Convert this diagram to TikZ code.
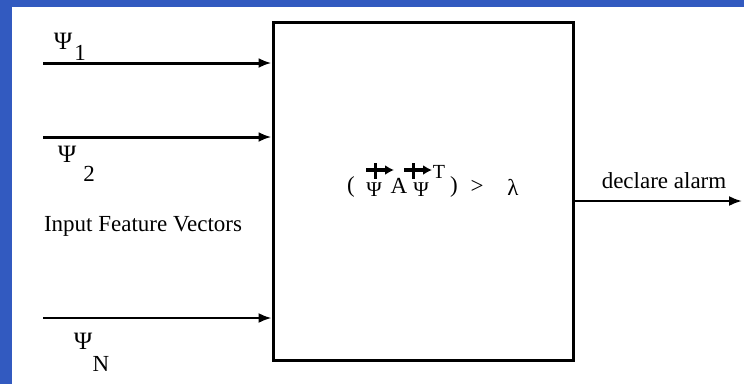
\documentclass[tikz,border=0pt]{standalone}
\usepackage{fontspec}
\setmainfont{Liberation Serif}
\usetikzlibrary{arrows.meta}
\definecolor{frameblue}{RGB}{50,90,192}
\begin{document}
\begin{tikzpicture}[x=1pt,y=-1pt,
  lbl/.style={inner sep=0pt, font=\fontsize{23}{25}\selectfont},
  psi/.style={inner sep=0pt, font=\fontsize{25}{27}\selectfont},
  vpsi/.style={inner sep=0pt, font=\fontsize{21}{23}\selectfont},
  feed/.style={-{Latex[length=13pt,width=10pt]}, line width=3pt},
  thin feed/.style={-{Latex[length=13pt,width=10pt]}, line width=2.2pt},
  vecbar/.style={-{Latex[length=9pt,width=10pt]}, line width=4pt}]
\useasboundingbox (0,0) rectangle (744,384);
% page frame
\fill[frameblue] (0,0) rectangle (744,384);
\fill[white] (12,7) rectangle (744,384);

% detector block
\node[draw, line width=3pt, minimum width=300pt, minimum height=338pt, inner sep=0pt] (box) at (423,191) {};

% input feature vectors
\coordinate (s1) at (43,63);
\coordinate (s2) at (43,137);
\coordinate (sN) at (43,318);
\draw[feed] (s1) -- (s1 -| box.west);
\draw[feed] (s2) -- (s2 -| box.west);
\draw[thin feed] (sN) -- (sN -| box.west);

\node[psi] (p1) at (63,41) {Ψ};
\node[lbl] (i1) at (80,53) {1};
\node[psi] (p2) at (67,154) {Ψ};
\node[lbl] (i2) at (89,174) {2};
\node[lbl] (ifv) at (143,226) {Input Feature Vectors};
\node[psi] (pN) at (83,341) {Ψ};
\node[lbl] (iN) at (101,364) {N};

% decision rule
\node[lbl] (lp) at (351,187) {(};
\node[vpsi] (v1) at (374,190) {Ψ};
\node[lbl] (mA) at (399,186) {A};
\node[vpsi] (v2) at (421,190) {Ψ};
\node[lbl, font=\fontsize{20}{22}\selectfont] (tT) at (439,172) {T};
\node[lbl] (rp) at (454,187) {)};
\node[lbl] (gt) at (477,187) {>};
\node[lbl] (lam) at (513,187) {λ};
\draw[vecbar] (366,170) -- (394,170);
\draw[line width=3pt] (375,163) -- (375,179);
\draw[vecbar] (404,170) -- (432,170);
\draw[line width=3pt] (413,163) -- (413,179);

% output
\coordinate (out) at (742,201);
\draw[thin feed] (box.east |- out) -- (out);
\node[lbl] (alarm) at (664,181) {declare alarm};
\end{tikzpicture}
\end{document}
